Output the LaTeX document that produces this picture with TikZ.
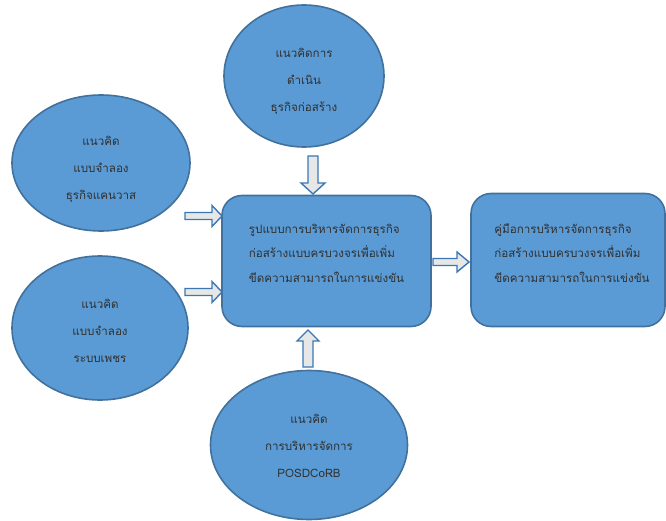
\documentclass[tikz,border=0pt]{standalone}
\usepackage{fontspec}
\newfontfamily\thaifont[Script=Thai]{Loma}
\usetikzlibrary{shapes.geometric}
\definecolor{boxfill}{HTML}{5B9BD5}
\definecolor{boxline}{HTML}{41719C}
\definecolor{arrfill}{HTML}{E7E7E7}
\definecolor{arrline}{HTML}{3A78B5}
\definecolor{txt}{HTML}{303030}
\begin{document}
\begin{tikzpicture}[x=1pt,y=-1pt,
  oval/.style={ellipse,draw=boxline,fill=boxfill,line width=1.6pt,inner sep=0pt},
  rbox/.style={rectangle,rounded corners=20pt,draw=boxline,fill=boxfill,line width=1.6pt},
  ovaltext/.style={text=txt,align=center,font=\thaifont\fontsize{11.6}{27}\selectfont},
  boxtext/.style={text=txt,align=left,font=\thaifont\fontsize{11.6}{24.5}\selectfont},
  blockarrow/.style={draw=arrline,fill=arrfill,line width=1.4pt,line join=miter}]
\useasboundingbox (0,0) rectangle (666,521);
% ovals
\node[oval,minimum width=160pt,minimum height=142pt] (top) at (304,76) {};
\node[ovaltext] (topt) at ([yshift=-5pt]top.center) {แนวคิดการ\\ดำเนิน\\ธุรกิจก่อสร้าง};
\node[oval,minimum width=178pt,minimum height=136pt] (lt) at (101,163) {};
\node[ovaltext] (ltt) at ([yshift=-6pt]lt.center) {แนวคิด\\แบบจำลอง\\ธุรกิจแคนวาส};
\node[oval,minimum width=176pt,minimum height=144pt] (lb) at (100,328) {};
\node[ovaltext] (lbt) at ([yshift=-3pt]lb.center) {แนวคิด\\แบบจำลอง\\ระบบเพชร};
\node[oval,minimum width=197pt,minimum height=149pt] (bot) at (309,445) {};
\node[ovaltext] (bott) at ([yshift=-1pt]bot.center) {แนวคิด\\การบริหารจัดการ\\POSDCoRB};
% boxes
\node[rbox,minimum width=209pt,minimum height=131pt] (mid) at (326.5,261) {};
\node[boxtext] (midt) at ([yshift=8pt]mid.center)
  {รูปแบบการบริหารจัดการธุรกิจ\\ก่อสร้างแบบครบวงจรเพื่อเพิ่ม\\ขีดความสามารถในการแข่งขัน};
\node[rbox,minimum width=194pt,minimum height=133pt] (out) at (568,260) {};
\node[boxtext] (outt) at ([yshift=7pt,xshift=4pt]out.center)
  {คู่มือการบริหารจัดการธุรกิจ\\ก่อสร้างแบบครบวงจรเพื่อเพิ่ม\\ขีดความสามารถในการแข่งขัน};
% block arrows
\draw[blockarrow] (308,156) -- (318,156) -- (318,183) -- (325,183) -- (313,194)
  -- (301,183) -- (308,183) -- cycle;
\draw[blockarrow] (185,212.5) -- (212,212.5) -- (212,205.5) -- (222,216) -- (212,226.5)
  -- (212,219.5) -- (185,219.5) -- cycle;
\draw[blockarrow] (185,288.5) -- (212,288.5) -- (212,281.5) -- (222,292) -- (212,302.5)
  -- (212,295.5) -- (185,295.5) -- cycle;
\draw[blockarrow] (433,258.5) -- (457,258.5) -- (457,252) -- (469,262) -- (457,272)
  -- (457,265.5) -- (433,265.5) -- cycle;
\draw[blockarrow] (303,367) -- (313,367) -- (313,341) -- (319,341) -- (308,330)
  -- (297,341) -- (303,341) -- cycle;
\end{tikzpicture}
\end{document}
